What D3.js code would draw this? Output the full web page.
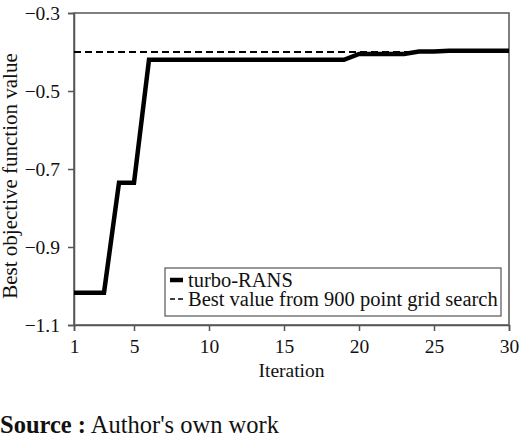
<!DOCTYPE html>
<html>
<head>
<meta charset="utf-8">
<script src="https://cdn.jsdelivr.net/npm/d3@7"></script>
<style>
  body { margin: 0; background: #fff; }
  svg text { font-family: 'Liberation Serif', 'Times New Roman', Times, serif; fill: #111; }
</style>
</head>
<body>
<div id="chart"></div>
<script>
// best objective value per iteration (turbo-RANS)
var iterations = [1, 2, 3, 4, 5, 6, 7, 8, 9, 10, 11, 12, 13, 14, 15, 16, 17, 18, 19, 20, 21, 22, 23, 24, 25, 26, 27, 28, 29, 30];
var turboValues = [-1.017, -1.017, -1.017, -0.735, -0.735, -0.42, -0.42, -0.42, -0.42, -0.42, -0.42, -0.42, -0.42, -0.42, -0.42, -0.42, -0.42, -0.42, -0.42,
	-0.405, -0.405, -0.405, -0.405, -0.399, -0.399, -0.397, -0.397, -0.397, -0.397, -0.397];
var gridSearchBest = -0.40;
var xTicks = [1, 5, 10, 15, 20, 25, 30];
var yTicks = [-0.3, -0.5, -0.7, -0.9, -1.1];
var legendLabels = ['turbo-RANS', 'Best value from 900 point grid search'];

var width = 520, height = 442;
var plot = { left: 74, right: 509, top: 13, bottom: 325 };
var axisColor = '#555';

var svg = d3.select('#chart').append('svg').attr('width', width).attr('height', height);

var x = d3.scaleLinear().domain([1, 30]).range([plot.left, plot.right]);
var y = d3.scaleLinear().domain([-1.1, -0.3]).range([plot.bottom, plot.top]);

var fmt = function (d) { return d3.format('.1f')(d).replace('-', '\u2212'); };

// frame
svg.append('rect')
	.attr('x', plot.left).attr('y', plot.top)
	.attr('width', plot.right - plot.left).attr('height', plot.bottom - plot.top)
	.attr('fill', 'none').attr('stroke', axisColor).attr('stroke-width', 1.5);

var xAxis = svg.append('g')
	.attr('transform', 'translate(0,' + plot.bottom + ')')
	.call(d3.axisBottom(x).tickValues(xTicks).tickSize(6).tickPadding(8));
var yAxis = svg.append('g')
	.attr('transform', 'translate(' + plot.left + ',0)')
	.call(d3.axisLeft(y).tickValues(yTicks).tickFormat(fmt).tickSize(6).tickPadding(8));

[xAxis, yAxis].forEach(function (g) {
	g.attr('font-size', 19.5);
	g.select('.domain').attr('stroke', axisColor).attr('stroke-width', 1.5);
	g.selectAll('.tick line').attr('stroke', axisColor).attr('stroke-width', 1.5);
	g.selectAll('.tick text').attr('fill', '#111');
});

// grid search reference line
svg.append('line')
	.attr('x1', x(1)).attr('x2', x(30))
	.attr('y1', y(gridSearchBest)).attr('y2', y(gridSearchBest))
	.attr('stroke', '#000').attr('stroke-width', 2).attr('stroke-dasharray', '7,4');

var points = iterations.map(function (it, i) { return { it: it, v: turboValues[i] }; });
var line = d3.line().x(function (d) { return x(d.it); }).y(function (d) { return y(d.v); });
svg.append('path')
	.datum(points)
	.attr('d', line)
	.attr('fill', 'none').attr('stroke', '#000').attr('stroke-width', 4.5)
	.attr('stroke-linejoin', 'miter');

// axis titles
svg.append('text')
	.attr('x', (plot.left + plot.right) / 2).attr('y', 377)
	.attr('text-anchor', 'middle').attr('font-size', 19.5)
	.text('Iteration');
svg.append('text')
	.attr('transform', 'translate(17,176) rotate(-90)')
	.attr('text-anchor', 'middle').attr('font-size', 21)
	.text('Best objective function value');

// legend
var lg = svg.append('g').attr('transform', 'translate(165,268)');
lg.append('rect').attr('width', 336).attr('height', 48)
	.attr('fill', '#fff').attr('stroke', axisColor).attr('stroke-width', 1.2);
lg.append('line').attr('x1', 5).attr('x2', 18).attr('y1', 12).attr('y2', 12)
	.attr('stroke', '#000').attr('stroke-width', 4.5);
lg.append('line').attr('x1', 5).attr('x2', 18).attr('y1', 31).attr('y2', 31)
	.attr('stroke', '#000').attr('stroke-width', 1.5).attr('stroke-dasharray', '5,3');
lg.selectAll('.legend-label')
	.data(legendLabels)
	.enter().append('text')
	.attr('class', 'legend-label')
	.attr('x', 23)
	.attr('y', function (d, i) { return 19 + i * 19; })
	.attr('font-size', 20.5)
	.text(function (d) { return d; });

// source note
var src = svg.append('text').attr('x', 0).attr('y', 433).attr('font-size', 24.5);
src.append('tspan').attr('font-weight', 'bold').text('Source :');
src.append('tspan').text(" Author's own work");
</script>
</body>
</html>
